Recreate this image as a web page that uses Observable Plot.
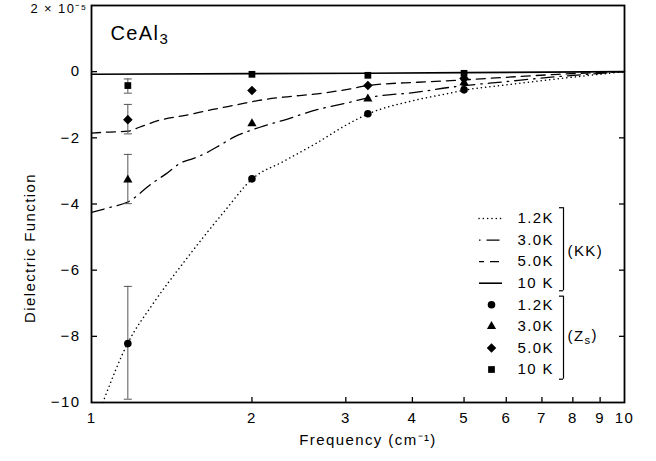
<!DOCTYPE html>
<html>
<head>
<meta charset="utf-8">
<script src="https://cdn.jsdelivr.net/npm/d3@7"></script>
<script src="https://cdn.jsdelivr.net/npm/@observablehq/plot@0.6"></script>
<style>
  body { margin: 0; background: #fff; }
  #wrap { position: relative; width: 656px; height: 461px; }
  #legend { position: absolute; left: 470px; top: 200px; }
</style>
</head>
<body>
<div id="wrap"><div id="chart"></div><div id="legend"></div></div>
<script>
// ---- Kramers-Kronig curves (eps in units of 1e-5) ----
const freq12 = [1.05, 1.17, 1.3, 1.5, 1.78, 2.0, 2.3, 2.65, 3.0, 3.3, 4.0, 4.7, 5.0, 6.0, 7.0, 8.5, 10];
const eps12  = [-10.0, -8.2, -7.05, -5.7, -4.2, -3.25, -2.7, -2.15, -1.62, -1.28, -0.88, -0.65, -0.56, -0.4, -0.27, -0.12, 0];

const freq30 = [1.0, 1.09, 1.17, 1.3, 1.38, 1.47, 1.55, 1.64, 1.76, 1.85, 2.07, 2.29, 2.65, 3.06, 3.3, 4.08, 4.72, 6.0, 7.5, 10];
const eps30  = [-4.25, -4.09, -3.94, -3.37, -3.09, -2.76, -2.63, -2.46, -2.18, -1.98, -1.68, -1.47, -1.15, -0.92, -0.79, -0.62, -0.47, -0.3, -0.15, 0];

const freq50 = [1.0, 1.06, 1.17, 1.23, 1.34, 1.5, 1.68, 1.89, 2.06, 2.29, 2.65, 3.06, 3.3, 4.08, 4.72, 6.0, 7.5, 10];
const eps50  = [-1.86, -1.83, -1.8, -1.68, -1.47, -1.32, -1.15, -0.99, -0.87, -0.77, -0.67, -0.52, -0.42, -0.32, -0.27, -0.17, -0.08, 0];

const freq10 = [1.0, 2.0, 3.3, 5.0, 10];
const eps10  = [-0.08, -0.06, -0.05, -0.03, 0];

// ---- Surface impedance (Zs) points ----
const zsFreq = [1.17, 2.0, 3.3, 5.0];
const zs12 = [-8.22, -3.24, -1.27, -0.55];
const zs30 = [-3.27, -1.57, -0.82, -0.33];
const zs50 = [-1.45, -0.57, -0.42, -0.21];
const zs10 = [-0.42, -0.08, -0.11, -0.05];

// error bars at lowest frequency
const errFreq = [1.17, 1.17, 1.17, 1.17];
const errLo = [-9.9, -3.99, -1.88, -0.65];
const errHi = [-6.49, -2.50, -0.99, -0.22];

// ---- ticks & labels ----
const xTickValues = [1, 2, 3, 4, 5, 6, 7, 8, 9, 10];
const xInnerTicks = [2, 3, 4, 5, 6, 7, 8, 9];
const yTickValues = [-10, -8, -6, -4, -2, 0];
const yInnerTicks = [-8, -6, -4, -2, 0];
const yTopLabel = "2 × 10⁻⁵";
const xLabel = "Frequency (cm⁻¹)";
const yLabel = "Dielectric Function";
const title = "CeAl3";

const legendLabels = ["1.2K", "3.0K", "5.0K", "10 K", "1.2K", "3.0K", "5.0K", "10 K"];
const legendGroups = ["(KK)", "(Zs)"];

const pts = (f, e) => f.map((v, i) => ({f: v, e: e[i]}));
const errs = errFreq.map((f, i) => ({f, lo: errLo[i], hi: errHi[i]}));

const font = "'Liberation Sans', Arial, sans-serif";
const W = 656, H = 461, mL = 91, mR = 32, mT = 5, mB = 59;
const innerW = W - mL - mR, innerH = H - mT - mB;

const capSymbol = { draw(ctx) { ctx.moveTo(-4, 0); ctx.lineTo(4, 0); } };

const chart = Plot.plot({
  width: W, height: H,
  marginLeft: mL, marginRight: mR, marginTop: mT, marginBottom: mB,
  x: {type: "log", domain: [1, 10]},
  y: {domain: [-10, 2]},
  style: {fontFamily: font, fontSize: "15px", letterSpacing: "1.4px", background: "white", overflow: "visible"},
  marks: [
    // curves
    Plot.line(pts(freq12, eps12), {x: "f", y: "e", stroke: "black", strokeWidth: 1.5, strokeDasharray: "0.1 4.2", strokeLinecap: "round", curve: "monotone-x"}),
    Plot.line(pts(freq30, eps30), {x: "f", y: "e", stroke: "black", strokeWidth: 1.3, strokeDasharray: "13 6 1.5 6", curve: "monotone-x"}),
    Plot.line(pts(freq50, eps50), {x: "f", y: "e", stroke: "black", strokeWidth: 1.3, strokeDasharray: "9 6", curve: "monotone-x"}),
    Plot.line(pts(freq10, eps10), {x: "f", y: "e", stroke: "black", strokeWidth: 1.6}),
    // error bars
    Plot.ruleX(errs, {x: "f", y1: "lo", y2: "hi", stroke: "#555", strokeWidth: 1}),
    Plot.dot(errs, {x: "f", y: "lo", symbol: capSymbol, stroke: "#555", strokeWidth: 1, fill: "none"}),
    Plot.dot(errs, {x: "f", y: "hi", symbol: capSymbol, stroke: "#555", strokeWidth: 1, fill: "none"}),
    // points
    Plot.dot(pts(zsFreq, zs12), {x: "f", y: "e", symbol: "circle", r: 3.8, fill: "black"}),
    Plot.dot(pts(zsFreq, zs30), {x: "f", y: "e", symbol: "triangle", r: 3.4, fill: "black"}),
    Plot.dot(pts(zsFreq, zs50), {x: "f", y: "e", symbol: "diamond2", r: 4.3, fill: "black"}),
    Plot.dot(pts(zsFreq, zs10), {x: "f", y: "e", symbol: "square", r: 3.8, fill: "black"}),
    // inward ticks
    Plot.tickY(yInnerTicks, {y: d => d, insetRight: innerW - 6, stroke: "black", strokeWidth: 1.3}),
    Plot.tickY(yInnerTicks, {y: d => d, insetLeft: innerW - 5, stroke: "black", strokeWidth: 1.3}),
    Plot.tickX(xInnerTicks, {x: d => d, insetTop: innerH - 5, stroke: "black", strokeWidth: 1.3}),
    // axes (labels only)
    Plot.axisX({ticks: xTickValues, tickSize: 0, tickPadding: 10, tickFormat: d => String(d), label: null}),
    Plot.axisY({ticks: yTickValues, tickSize: 0, tickPadding: 11, tickFormat: d => d === 0 ? "0" : "−" + Math.abs(d), label: null}),
    Plot.text([yTopLabel], {frameAnchor: "top-left", textAnchor: "end", lineAnchor: "middle", dx: -4, dy: 3, fontSize: 13}),
    Plot.text([xLabel], {frameAnchor: "bottom", textAnchor: "middle", lineAnchor: "middle", dx: 10, dy: 38}),
    Plot.text([yLabel], {frameAnchor: "left", textAnchor: "middle", lineAnchor: "middle", rotate: -90, dx: -61, dy: 44}),
    Plot.text([title], {frameAnchor: "top-left", textAnchor: "start", lineAnchor: "middle", dx: 19, dy: 28, fontSize: 20}),
    Plot.frame({stroke: "black", strokeWidth: 1.8})
  ]
});
document.getElementById("chart").appendChild(chart);

// ---- legend ----
const legend = Plot.plot({
  width: 150, height: 190, margin: 0,
  x: {domain: [0, 150], range: [0, 150]},
  y: {domain: [0, 7], range: [18, 169]},
  axis: null,
  style: {fontFamily: font, fontSize: "15px", letterSpacing: "1.4px", background: "transparent", overflow: "visible"},
  marks: [
    Plot.ruleY([0], {x1: 9, x2: 31, stroke: "black", strokeWidth: 1.5, strokeDasharray: "0.1 4.2", strokeLinecap: "round"}),
    Plot.ruleY([1], {x1: 9, x2: 30, stroke: "black", strokeWidth: 1.3, strokeDasharray: "1.5 6 13 6"}),
    Plot.ruleY([2], {x1: 9, x2: 30, stroke: "black", strokeWidth: 1.3, strokeDasharray: "5 6 9 6"}),
    Plot.ruleY([3], {x1: 9, x2: 32, stroke: "black", strokeWidth: 1.6}),
    Plot.dot([4], {x: 21, y: d => d, symbol: "circle", r: 3.8, fill: "black"}),
    Plot.dot([5], {x: 21, y: d => d, symbol: "triangle", r: 3.4, fill: "black"}),
    Plot.dot([6], {x: 21, y: d => d, symbol: "diamond2", r: 4.3, fill: "black"}),
    Plot.dot([7], {x: 21, y: d => d, symbol: "square", r: 3.8, fill: "black"}),
    Plot.text(legendLabels, {x: 47, y: (d, i) => i, textAnchor: "start", lineAnchor: "middle"}),
    Plot.ruleX([0], {x: 93, y1: -0.5, y2: 3.35, stroke: "black", strokeWidth: 1.2}),
    Plot.ruleX([0], {x: 93, y1: 3.6, y2: 7.45, stroke: "black", strokeWidth: 1.2}),
    Plot.ruleY([-0.5, 3.35, 3.6, 7.45], {x1: 89, x2: 93, y: d => d, stroke: "black", strokeWidth: 1.2}),
    Plot.text(legendGroups, {x: 97, y: (d, i) => i === 0 ? 1.5 : 5.45, textAnchor: "start", lineAnchor: "middle"})
  ]
});
document.getElementById("legend").appendChild(legend);

// sub/superscripts
function subscriptify(svg, full, base, sub) {
  d3.select(svg).selectAll("text").filter(function() { return this.textContent === full; }).each(function() {
    const t = d3.select(this);
    t.text(null);
    t.append("tspan").text(base);
    t.append("tspan").attr("dy", "0.3em").attr("font-size", "0.75em").text(sub);
  });
}
subscriptify(chart, "CeAl3", "CeAl", "3");
d3.select(legend).selectAll("text").filter(function() { return this.textContent === "(Zs)"; }).each(function() {
  const t = d3.select(this);
  t.text(null);
  t.append("tspan").text("(Z");
  t.append("tspan").attr("dy", "0.3em").attr("font-size", "0.75em").text("s");
  t.append("tspan").attr("dy", "-0.3em").text(")");
});
</script>
</body>
</html>
